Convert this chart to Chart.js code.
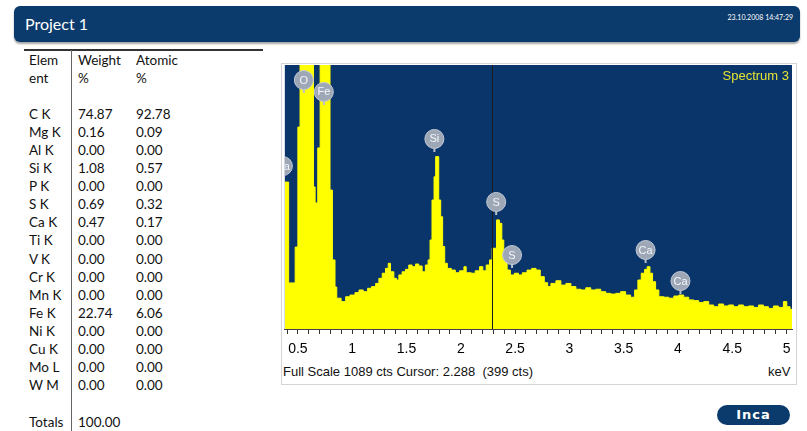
<!DOCTYPE html>
<html>
<head>
<meta charset="utf-8">
<script src="https://cdn.jsdelivr.net/npm/chart.js@4.4.1/dist/chart.umd.min.js"></script>
<style>
  body { margin: 0; width: 807px; height: 431px; background: #fff; position: relative; overflow: hidden; font-family: Lato, sans-serif; }
  #header { position: absolute; left: 14px; top: 6px; width: 786px; height: 36px; background: #0b3a6c; border-radius: 6px; box-shadow: 0 2px 2px rgba(0,0,0,0.35); }
  #header .title { position: absolute; left: 11px; top: 8px; color: #fff; font-size: 16px; }
  #header .date { position: absolute; right: 7px; top: 7px; color: #fff; font-size: 7px; }
  .cell { position: absolute; height: 18px; line-height: 18px; font-size: 13.5px; color: #111; white-space: nowrap; }
  #topline { position: absolute; left: 24px; top: 49px; width: 239px; height: 2px; background: #333; }
  #vline { position: absolute; left: 71px; top: 50px; width: 1px; height: 381px; background: #666; }
  #frame { position: absolute; left: 281px; top: 63px; width: 514px; height: 320px; border: 1px solid #d4d4d4; }
  #chartBox { position: absolute; left: 280px; top: 62px; width: 520px; height: 297px; }
  .foot { position: absolute; top: 364px; font-family: 'Liberation Sans', Arial, sans-serif; font-size: 13px; color: #111; }
  #logo { position: absolute; left: 717px; top: 405px; width: 73px; height: 20px; background: #0b3a6c; border-radius: 10px; color: #fff; font-family: 'DejaVu Sans', sans-serif; font-weight: bold; font-size: 13px; line-height: 20px; text-align: center; letter-spacing: 1px; }
</style>
</head>
<body>
<div id="header"><span class="title">Project 1</span><span class="date">23.10.2008 14:47:29</span></div>
<div id="topline"></div>
<div id="vline"></div>
<div id="table"></div>
<div id="frame"></div>
<div id="chartBox"><canvas id="spectrumChart"></canvas></div>
<div class="foot" style="left:283px;">Full Scale 1089 cts Cursor: 2.288&nbsp; (399 cts)</div>
<div class="foot" style="left:768px;">keV</div>
<div id="logo">Inca</div>

<script>
// Quantification table
const elements = ['C K', 'Mg K', 'Al K', 'Si K', 'P K', 'S K', 'Ca K', 'Ti K', 'V K', 'Cr K', 'Mn K', 'Fe K', 'Ni K', 'Cu K', 'Mo L', 'W M'];
const weightPct = ['74.87', '0.16', '0.00', '1.08', '0.00', '0.69', '0.47', '0.00', '0.00', '0.00', '0.00', '22.74', '0.00', '0.00', '0.00', '0.00'];
const atomicPct = ['92.78', '0.09', '0.00', '0.57', '0.00', '0.32', '0.17', '0.00', '0.00', '0.00', '0.00', '6.06', '0.00', '0.00', '0.00', '0.00'];
const totalWeight = '100.00';

// Spectrum (keV, counts) - each point starts a step
const energies = [0.378, 0.415, 0.475, 0.500, 0.520, 0.644, 0.659, 0.683, 0.705, 0.796, 0.818, 0.842, 0.858, 0.898, 0.940, 0.980,
  1.026, 1.063, 1.102, 1.142, 1.179, 1.216, 1.246, 1.277, 1.307, 1.332, 1.353, 1.384, 1.408, 1.430, 1.460, 1.491,
  1.521, 1.552, 1.583, 1.613, 1.644, 1.674, 1.699, 1.717, 1.735, 1.754, 1.769, 1.797, 1.815, 1.833, 1.852, 1.876,
  1.913, 1.950, 1.989, 2.029, 2.050, 2.096, 2.133, 2.173, 2.203, 2.234, 2.265, 2.289, 2.329, 2.356, 2.378, 2.396,
  2.427, 2.457, 2.494, 2.531, 2.567, 2.610, 2.653, 2.693, 2.732, 2.769, 2.800, 2.830, 2.876, 2.922, 2.968, 3.014,
  3.060, 3.106, 3.151, 3.197, 3.243, 3.289, 3.335, 3.381, 3.427, 3.472, 3.518, 3.564, 3.601, 3.631, 3.662, 3.693,
  3.717, 3.742, 3.766, 3.794, 3.824, 3.870, 3.916, 3.962, 4.008, 4.053, 4.099, 4.145, 4.191, 4.237, 4.283, 4.329,
  4.375, 4.420, 4.466, 4.512, 4.558, 4.604, 4.650, 4.696, 4.742, 4.787, 4.833, 4.879, 4.925, 4.971, 5.002, 5.032, 5.050];
const counts = [606, 190, 338, 833, 1300, 586, 520, 747, 1300, 573, 285, 173, 127, 113, 133, 140,
  150, 161, 154, 168, 175, 188, 209, 230, 250, 271, 236, 209, 202, 223, 236, 246,
  264, 257, 268, 260, 236, 264, 285, 367, 532, 628, 711, 532, 463, 340, 271, 250,
  243, 232, 240, 257, 232, 230, 240, 257, 240, 264, 285, 333, 450, 436, 367, 298,
  243, 223, 230, 223, 232, 243, 250, 243, 216, 191, 175, 188, 199, 181, 188, 175,
  164, 161, 170, 161, 164, 154, 147, 144, 147, 154, 140, 131, 161, 202, 230, 246,
  257, 230, 195, 161, 133, 131, 127, 136, 140, 131, 120, 117, 109, 113, 99, 92,
  103, 95, 99, 92, 99, 92, 95, 89, 99, 92, 85, 95, 89, 113, 92, 81, 81];

// Peak markers
const peakNames = ['Ca', 'O', 'Fe', 'Si', 'S', 'S', 'Ca', 'Ca'];
const peakEnergies = [0.362, 0.555, 0.739, 1.757, 2.326, 2.472, 3.702, 4.023];
const peakCounts = [672, 1027, 978, 784, 524, 305, 326, 198];

const tickLabels = [0.5, 1, 1.5, 2, 2.5, 3, 3.5, 4, 4.5, 5];
const fullScale = 1089;
const cursorKeV = 2.288;

function buildTable() {
    const box = document.getElementById('table');
    const put = (text, left, center) => {
        const d = document.createElement('div');
        d.className = 'cell';
        d.textContent = text;
        d.style.left = left + 'px';
        d.style.top = (center - 9) + 'px';
        box.appendChild(d);
    };
    put('Elem', 29, 60); put('Weight', 78, 60); put('Atomic', 136, 60);
    put('ent', 29, 78); put('%', 78, 78); put('%', 136, 78);
    elements.forEach((el, i) => {
        const y = 114 + i * 18.07;
        put(el, 29, y);
        put(weightPct[i], 78, y);
        put(atomicPct[i], 136, y);
    });
    put('Totals', 29, 421.5);
    put(totalWeight, 78, 421.5);
}

const spectrumDecor = {
    id: 'spectrumDecor',
    beforeDatasetsDraw(chart) {
        const { ctx, chartArea: a } = chart;
        ctx.save();
        ctx.fillStyle = '#0a356a';
        ctx.fillRect(a.left, a.top, a.right - a.left, a.bottom - a.top);
        ctx.restore();
    },
    afterDatasetsDraw(chart) {
        const { ctx, chartArea: a, scales } = chart;
        ctx.save();
        ctx.beginPath();
        ctx.rect(a.left, a.top, a.right - a.left, a.bottom - a.top);
        ctx.clip();

        // cursor
        const cx = Math.round(scales.x.getPixelForValue(cursorKeV)) + 0.5;
        ctx.strokeStyle = '#1b1b1b';
        ctx.lineWidth = 1;
        ctx.beginPath();
        ctx.moveTo(cx, a.top);
        ctx.lineTo(cx, a.bottom);
        ctx.stroke();

        // peak badges
        peakNames.forEach((name, i) => {
            const px = scales.x.getPixelForValue(peakEnergies[i]);
            const py = scales.y.getPixelForValue(peakCounts[i]);
            ctx.strokeStyle = '#b8c0cc';
            ctx.lineWidth = 2;
            ctx.beginPath();
            ctx.moveTo(px, py + 8);
            ctx.lineTo(px, py + 13);
            ctx.stroke();
            ctx.beginPath();
            ctx.arc(px, py, 9.5, 0, Math.PI * 2);
            ctx.fillStyle = '#9ea7b6';
            ctx.fill();
            ctx.lineWidth = 1;
            ctx.strokeStyle = '#c3cad5';
            ctx.stroke();
            ctx.fillStyle = '#f4f6fa';
            ctx.font = '11px "Liberation Sans", Arial, sans-serif';
            ctx.textAlign = 'center';
            ctx.textBaseline = 'middle';
            ctx.fillText(name, px, py + 0.5);
        });
        ctx.restore();

        ctx.save();
        ctx.fillStyle = '#e4e432';
        ctx.font = '13px "Liberation Sans", Arial, sans-serif';
        ctx.textAlign = 'right';
        ctx.textBaseline = 'middle';
        ctx.fillText('Spectrum 3', a.right - 3, a.top + 11);
        ctx.restore();
    }
};

function createSpectrumChart() {
    const ctx = document.getElementById('spectrumChart');
    new Chart(ctx.getContext('2d'), {
        type: 'line',
        data: {
            datasets: [{
                data: energies.map((e, i) => ({ x: e, y: counts[i] })),
                stepped: true,
                fill: 'start',
                backgroundColor: '#ffff00',
                borderColor: '#ffff00',
                borderWidth: 1,
                pointRadius: 0
            }]
        },
        options: {
            responsive: true,
            maintainAspectRatio: false,
            animation: false,
            layout: { padding: { left: 3, top: 3, right: 8, bottom: 0 } },
            plugins: { legend: { display: false }, tooltip: { enabled: false } },
            scales: {
                x: {
                    type: 'linear',
                    min: 0.38,
                    max: 5.05,
                    afterFit: s => { s.height = 30; },
                    grid: { drawOnChartArea: false, drawTicks: true, tickLength: 5, tickColor: '#333' },
                    border: { display: true, color: '#444' },
                    ticks: {
                        stepSize: 0.1,
                        includeBounds: false,
                        autoSkip: false,
                        maxRotation: 0,
                        padding: 7,
                        color: '#000',
                        font: { family: '"Liberation Sans", Arial, sans-serif', size: 14 },
                        callback: function(value) {
                            const hit = tickLabels.find(t => Math.abs(t - value) < 1e-6);
                            return hit === undefined ? '' : String(hit);
                        }
                    }
                },
                y: { display: false, min: 0, max: fullScale }
            }
        },
        plugins: [spectrumDecor]
    });
}

buildTable();
createSpectrumChart();
</script>
</body>
</html>
